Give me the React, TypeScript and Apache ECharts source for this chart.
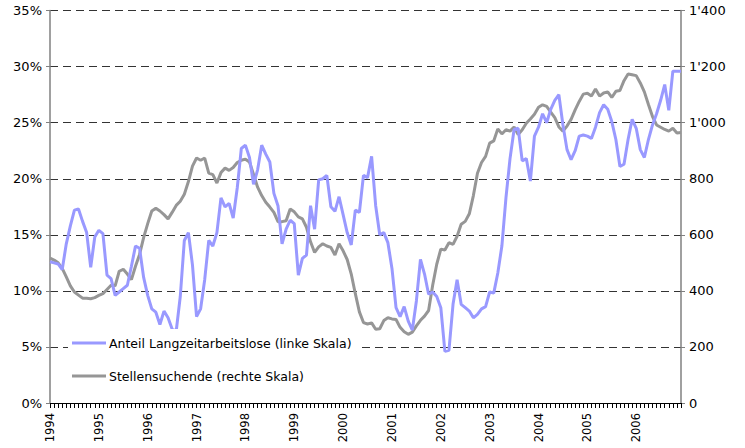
import React, { useEffect, useRef } from "react";
import * as echarts from "echarts";

const years = ["1994","1995","1996","1997","1998","1999","2000","2001","2002","2003","2004","2005","2006"];

const anteil = [
  12.6, 12.5, 12.4, 11.9, 14.2, 15.8, 17.2, 17.3, 16.2, 15.2, 12.1, 14.8,
  15.4, 15.1, 11.4, 11.1, 9.6, 9.9, 10.2, 10.5, 12.2, 14.0, 13.8, 11.2,
  9.6, 8.4, 8.1, 7.0, 8.2, 7.6, 6.6, 6.4, 9.5, 14.5, 15.2, 12.3,
  7.7, 8.4, 11.0, 14.5, 14.0, 15.2, 18.3, 17.5, 17.8, 16.5, 19.2, 22.7,
  23.0, 21.9, 19.5, 20.8, 23.0, 22.2, 21.5, 18.7, 17.6, 14.2, 15.5, 16.3,
  16.0, 11.4, 12.9, 13.2, 17.6, 15.5, 19.9, 20.0, 20.3, 17.5, 17.1, 18.4,
  16.8, 15.2, 14.1, 17.2, 17.0, 20.3, 20.1, 22.0, 17.6, 15.0, 15.2, 14.3,
  12.0, 8.5, 7.7, 8.6, 7.3, 6.5, 9.1, 12.8, 11.5, 9.7, 9.9, 9.5,
  8.5, 4.6, 4.7, 8.8, 11.0, 8.8, 8.5, 8.2, 7.6, 7.9, 8.4, 8.6,
  9.9, 9.8, 11.6, 14.0, 18.3, 21.8, 24.4, 24.5, 21.6, 21.8, 19.8, 23.8,
  24.6, 25.8, 25.0, 26.2, 27.0, 27.5, 24.8, 22.6, 21.7, 22.5, 23.8, 23.9,
  23.8, 23.6, 24.6, 25.9, 26.6, 26.2, 25.1, 23.5, 21.1, 21.3, 23.5, 25.3,
  24.5, 22.6, 21.9, 23.5, 24.8, 25.8, 27.0, 28.4, 26.1, 29.6, 29.6, 29.6
];

const stellensuchende = [
  517, 510, 500, 480, 450, 418, 396, 385, 374, 374, 372, 376,
  384, 390, 405, 420, 418, 470, 477, 460, 440, 488, 530, 590,
  640, 685, 695, 685, 672, 657, 680, 705, 720, 745, 790, 845,
  874, 866, 874, 820, 815, 785, 822, 838, 830, 840, 858, 866,
  870, 860, 815, 770, 740, 716, 699, 680, 647, 647, 650, 692,
  682, 664, 657, 627, 575, 537, 557, 568, 560, 555, 528, 568,
  543, 512, 460, 390, 325, 287, 282, 286, 263, 265, 294, 304,
  300, 298, 270, 254, 245, 253, 275, 295, 310, 330, 420, 495,
  549, 546, 572, 566, 595, 638, 648, 675, 740, 820, 858, 880,
  927, 935, 978, 960, 975, 970, 985, 958, 975, 998, 1013, 1030,
  1055, 1064, 1058, 1038, 1018, 985, 970, 988, 1012, 1046, 1076, 1102,
  1105, 1095, 1120, 1095, 1106, 1110, 1090, 1112, 1115, 1150, 1174, 1171,
  1168, 1142, 1110, 1065, 1022, 992, 984, 976, 970, 980, 963, 965
];

const seriesNames = [
  "Anteil Langzeitarbeitslose (linke Skala)",
  "Stellensuchende (rechte Skala)"
];

const months: string[] = [];
years.forEach((y) => {
  for (let m = 1; m <= 12; m++) months.push(y + "-" + (m < 10 ? "0" + m : "" + m));
});

const FONT = "DejaVu Sans";

export default function App() {
  const ref = useRef<HTMLDivElement>(null);
  useEffect(() => {
    document.body.style.margin = "0";
    const chart = echarts.init(ref.current!, null, { renderer: "svg" });
    chart.setOption({
      animation: false,
      backgroundColor: "#ffffff",
      grid: { left: 50, right: 64, top: 10.6, bottom: 45, containLabel: false },
      legend: {
        orient: "vertical",
        left: 68,
        top: 329,
        padding: [6, 6, 6, 4],
        backgroundColor: "#ffffff",
        itemWidth: 34,
        itemHeight: 3,
        itemGap: 17,
        icon: "rect",
        textStyle: { fontFamily: FONT, fontSize: 12.5, color: "#000", lineHeight: 16, padding: [0, 0, 0, -2] },
        data: seriesNames
      },
      xAxis: {
        type: "category",
        data: months,
        boundaryGap: false,
        axisLine: { lineStyle: { color: "#000", width: 1 } },
        axisTick: { interval: 0, length: 5, lineStyle: { color: "#000" } },
        axisLabel: {
          interval: (i: number) => i % 12 === 0,
          formatter: (v: string) => v.slice(0, 4),
          rotate: 90,
          margin: 10,
          fontFamily: FONT,
          fontSize: 11.5,
          color: "#000"
        },
        splitLine: { show: false }
      },
      yAxis: [
        {
          type: "value",
          min: 0,
          max: 35,
          interval: 5,
          axisLine: { show: true, lineStyle: { color: "#808080", width: 1.5 } },
          axisTick: { show: true, length: 4, inside: false, lineStyle: { color: "#808080" } },
          axisLabel: { formatter: (v: number) => v + "%", fontFamily: FONT, fontSize: 13, color: "#000", margin: 8 },
          splitLine: { show: true, lineStyle: { color: "#333", type: [8, 5], width: 1 } }
        },
        {
          type: "value",
          min: 0,
          max: 1400,
          interval: 200,
          position: "right",
          axisLine: { show: true, lineStyle: { color: "#808080", width: 1.5 } },
          axisTick: { show: true, length: 4, lineStyle: { color: "#808080" } },
          axisLabel: {
            formatter: (v: number) => (v >= 1000 ? Math.floor(v / 1000) + "'" + String(v % 1000).padStart(3, "0") : String(v)),
            fontFamily: FONT,
            fontSize: 13,
            color: "#000",
            margin: 8
          },
          splitLine: { show: false }
        }
      ],
      series: [
        {
          name: seriesNames[0],
          type: "line",
          data: anteil,
          yAxisIndex: 0,
          showSymbol: false,
          symbol: "none",
          lineStyle: { color: "#9999ff", width: 3 },
          itemStyle: { color: "#9999ff" },
          z: 3
        },
        {
          name: seriesNames[1],
          type: "line",
          data: stellensuchende,
          yAxisIndex: 1,
          showSymbol: false,
          symbol: "none",
          lineStyle: { color: "#969696", width: 3 },
          itemStyle: { color: "#969696" },
          z: 2
        }
      ]
    });
    return () => chart.dispose();
  }, []);
  return <div ref={ref} style={{ width: 745, height: 448, position: "fixed", left: 0, top: 0 }} />;
}
